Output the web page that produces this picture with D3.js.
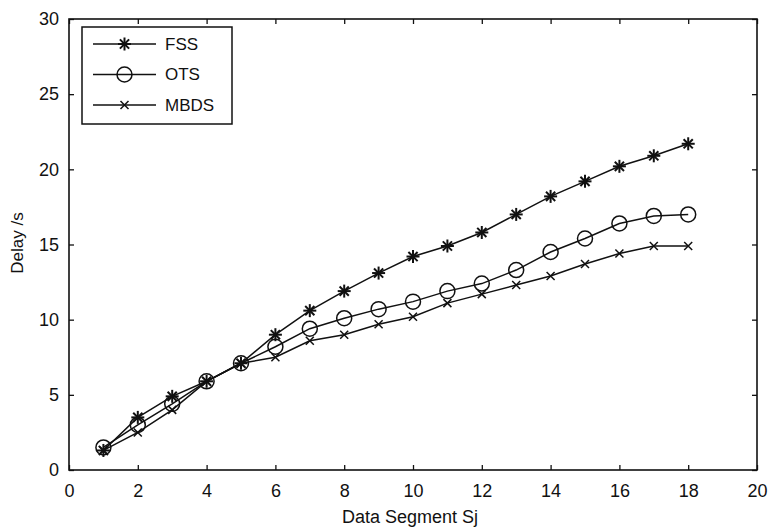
<!DOCTYPE html>
<html>
<head>
<meta charset="utf-8">
<script src="https://cdn.jsdelivr.net/npm/d3@7"></script>
<style>
  body { margin: 0; background: #fff; }
  svg { font-family: "Liberation Sans", Arial, sans-serif; }
  .axis path { display: none; }
  .axis line { stroke: #111; stroke-width: 1.3; }
  .axis text { fill: #111; font-size: 18px; }
</style>
</head>
<body>
<svg id="chart" width="769" height="529"></svg>
<script>
// data
const segments = [1, 2, 3, 4, 5, 6, 7, 8, 9, 10, 11, 12, 13, 14, 15, 16, 17, 18];
const fss  = [1.3, 3.5, 4.9, 5.9, 7.1, 9.0, 10.6, 11.9, 13.1, 14.2, 14.9, 15.8, 17.0, 18.2, 19.2, 20.2, 20.9, 21.7];
const ots  = [1.5, 3.0, 4.4, 5.9, 7.1, 8.2, 9.4, 10.1, 10.7, 11.2, 11.9, 12.4, 13.3, 14.5, 15.4, 16.4, 16.9, 17.0];
const mbds = [1.3, 2.5, 4.0, 5.9, 7.1, 7.5, 8.6, 9.0, 9.7, 10.2, 11.1, 11.7, 12.3, 12.9, 13.7, 14.4, 14.9, 14.9];
const xTicks = [0, 2, 4, 6, 8, 10, 12, 14, 16, 18, 20];
const yTicks = [0, 5, 10, 15, 20, 25, 30];
const seriesNames = ["FSS", "OTS", "MBDS"];

const margin = {left: 69, right: 12, top: 19, bottom: 59};
const width = 769, height = 529;
const svg = d3.select("#chart");

const x = d3.scaleLinear().domain([0, 20]).range([margin.left, width - margin.right]);
const y = d3.scaleLinear().domain([0, 30]).range([height - margin.bottom, margin.top]);

const tickLen = 5;

// axes, ticks pointing inward like matlab
svg.append("g").attr("class", "axis")
    .attr("transform", "translate(0," + y(0) + ")")
    .call(d3.axisBottom(x).tickValues(xTicks).tickSizeInner(-tickLen).tickSizeOuter(0).tickPadding(12))
    .selectAll("text").attr("dy", "0.85em");

svg.append("g").attr("class", "axis")
    .attr("transform", "translate(0," + y(30) + ")")
    .call(d3.axisTop(x).tickValues(xTicks).tickSizeInner(-tickLen).tickSizeOuter(0).tickFormat(""));

svg.append("g").attr("class", "axis")
    .attr("transform", "translate(" + x(0) + ",0)")
    .call(d3.axisLeft(y).tickValues(yTicks).tickSizeInner(-tickLen).tickSizeOuter(0).tickPadding(10));

svg.append("g").attr("class", "axis")
    .attr("transform", "translate(" + x(20) + ",0)")
    .call(d3.axisRight(y).tickValues(yTicks).tickSizeInner(-tickLen).tickSizeOuter(0).tickFormat(""));

svg.append("rect")
    .attr("x", x(0)).attr("y", y(30))
    .attr("width", x(20) - x(0)).attr("height", y(0) - y(30))
    .attr("fill", "none").attr("stroke", "#111").attr("stroke-width", 1.6);

// axis titles
svg.append("text")
    .attr("x", 410).attr("y", 523)
    .attr("text-anchor", "middle")
    .style("font-size", "18px").attr("fill", "#111")
    .text("Data Segment Sj");

svg.append("text")
    .attr("transform", "translate(23,243) rotate(-90)")
    .attr("text-anchor", "middle")
    .style("font-size", "17px").attr("fill", "#111")
    .text("Delay /s");

// markers
function drawMarker(g, kind, cx, cy) {
    if (kind === "OTS") {
        g.append("circle").attr("cx", cx).attr("cy", cy).attr("r", 7.5)
            .attr("fill", "none").attr("stroke", "#111").attr("stroke-width", 1.5);
    } else if (kind === "FSS") {
        const r = 6.5;
        [0, 45, 90, 135].forEach(a => {
            const rad = a * Math.PI / 180;
            g.append("line")
                .attr("x1", cx - r * Math.cos(rad)).attr("y1", cy - r * Math.sin(rad))
                .attr("x2", cx + r * Math.cos(rad)).attr("y2", cy + r * Math.sin(rad))
                .attr("stroke", "#111").attr("stroke-width", 2);
        });
    } else {
        const r = 4;
        g.append("path")
            .attr("d", `M${cx - r},${cy - r}L${cx + r},${cy + r}M${cx - r},${cy + r}L${cx + r},${cy - r}`)
            .attr("stroke", "#111").attr("stroke-width", 1.5);
    }
}

const line = d3.line().x(d => x(d[0])).y(d => y(d[1]));
const allSeries = [fss, ots, mbds];

allSeries.forEach((vals, i) => {
    const pts = segments.map((s, j) => [s, vals[j]]);
    const g = svg.append("g");
    g.append("path").attr("d", line(pts))
        .attr("fill", "none").attr("stroke", "#111").attr("stroke-width", 1.5);
    pts.forEach(p => drawMarker(g, seriesNames[i], x(p[0]), y(p[1])));
});

// legend
const legend = svg.append("g");
legend.append("rect")
    .attr("x", 82).attr("y", 27).attr("width", 150).attr("height", 97)
    .attr("fill", "#fff").attr("stroke", "#111").attr("stroke-width", 1.5);

seriesNames.forEach((name, i) => {
    const ly = 44 + i * 30.5;
    legend.append("line")
        .attr("x1", 93).attr("x2", 156).attr("y1", ly).attr("y2", ly)
        .attr("stroke", "#111").attr("stroke-width", 1.5);
    drawMarker(legend, name, 124.5, ly);
    legend.append("text")
        .attr("x", 165).attr("y", ly).attr("dy", "0.35em")
        .style("font-size", "17px").attr("fill", "#111")
        .text(name);
});
</script>
</body>
</html>
